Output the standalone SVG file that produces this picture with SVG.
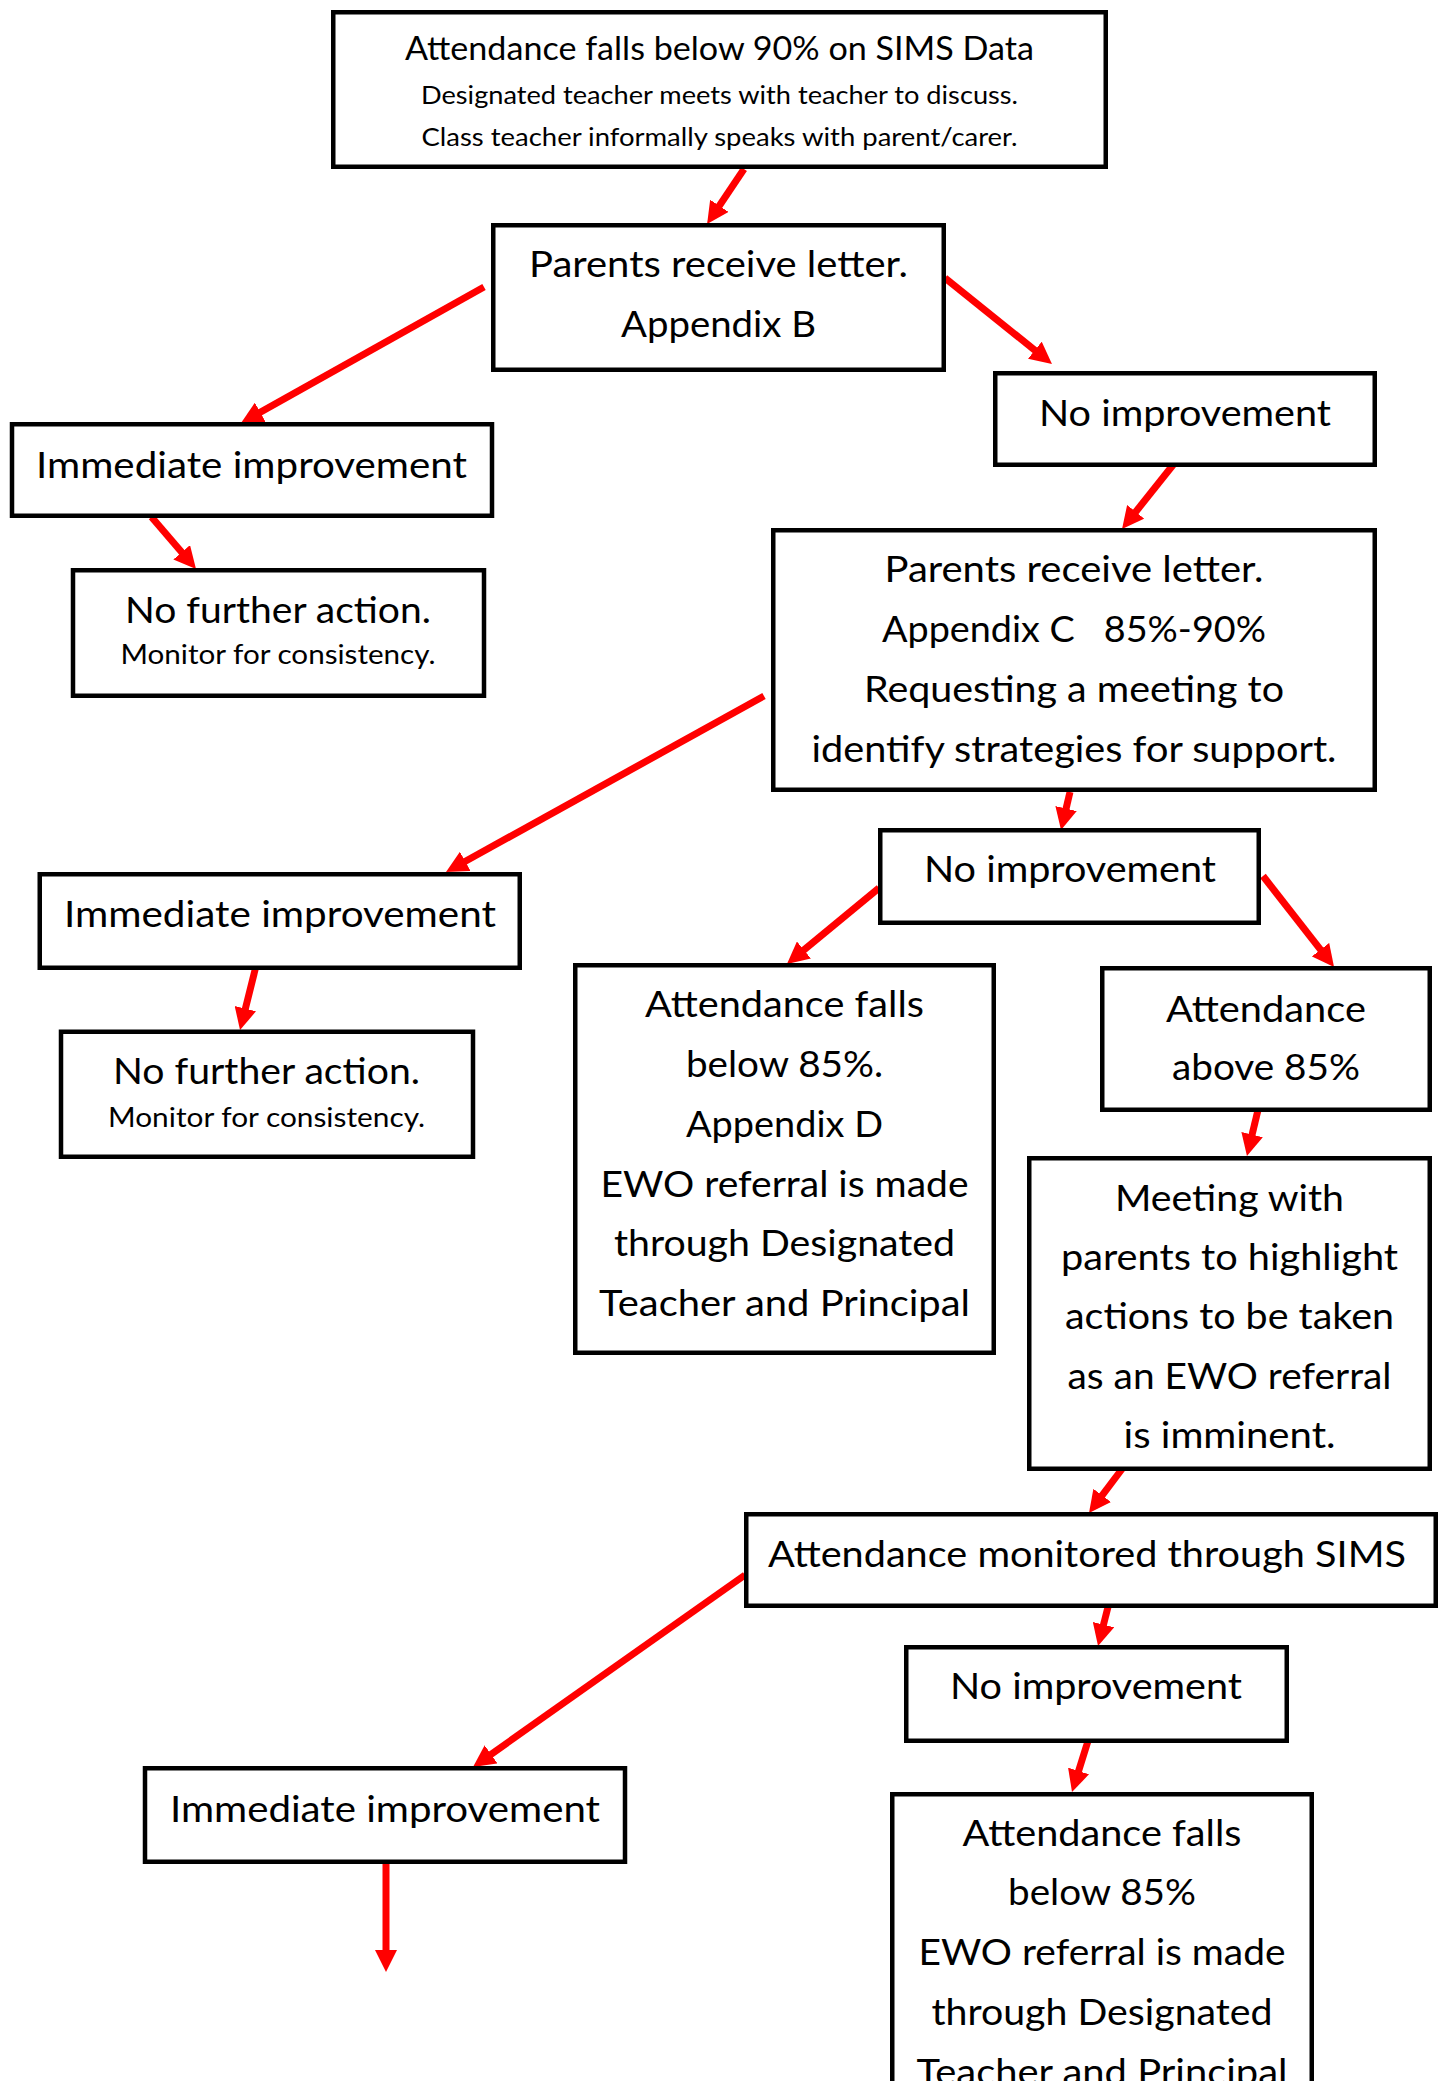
<svg xmlns="http://www.w3.org/2000/svg" width="1445" height="2081" viewBox="0 0 1445 2081">
<defs>
<style>
.node rect { fill:#ffffff; stroke:#000000; stroke-width:4.5; }
text { font-family: Lato, "Open Sans", "Liberation Sans", sans-serif; fill:#000000; text-anchor:middle; }
.t { font-size:37px; }
.h { font-size:33.5px; }
.s { font-size:25px; }
.m { font-size:27px; }
#connectors path { stroke:#ff0000; stroke-width:7; fill:none; marker-end:url(#ah); }
</style>
<marker id="ah" markerUnits="userSpaceOnUse" viewBox="0 0 22 22" markerWidth="22" markerHeight="22" refX="6" refY="11" orient="auto">
<path d="M0,0 L22,11 L0,22 z" fill="#ff0000"/>
</marker>
</defs>
<rect x="0" y="0" width="1445" height="2081" fill="#ffffff"/>

<g id="connectors">
<path d="M744,169 L716,210.8"/>
<path d="M484,287 L255,415.2"/>
<path d="M945,278 L1039.5,354"/>
<path d="M151.5,517 L185.6,556.8"/>
<path d="M1177,460 L1132,516.5"/>
<path d="M764,696 L460,864.3"/>
<path d="M1070,792 L1064.7,814.4"/>
<path d="M256,966 L243.9,1014.5"/>
<path d="M879,888 L799.3,953.8"/>
<path d="M1263,876 L1324.2,954.4"/>
<path d="M1258,1110 L1250.7,1140.4"/>
<path d="M1122,1469 L1098.6,1500.2"/>
<path d="M745,1575 L486.1,1757.8"/>
<path d="M1108,1607 L1102,1630.5"/>
<path d="M1088,1741 L1076.8,1776.7"/>
<path d="M386,1864 L386,1956"/>
</g>

<g id="n1" class="node">
<rect x="333.25" y="12.25" width="772.5" height="154.5"/>
<text class="h" x="719.5" y="60" textLength="629" lengthAdjust="spacingAndGlyphs">Attendance falls below 90% on SIMS Data</text>
<text class="s" x="719.5" y="104" textLength="597" lengthAdjust="spacingAndGlyphs">Designated teacher meets with teacher to discuss.</text>
<text class="s" x="719.5" y="146" textLength="596" lengthAdjust="spacingAndGlyphs">Class teacher informally speaks with parent/carer.</text>
</g>

<g id="n2" class="node">
<rect x="493.25" y="225.25" width="450.5" height="144.5"/>
<text class="t" x="718.5" y="277" textLength="379" lengthAdjust="spacingAndGlyphs">Parents receive letter.</text>
<text class="t" x="718.5" y="337" textLength="195" lengthAdjust="spacingAndGlyphs">Appendix B</text>
</g>

<g id="n3" class="node">
<rect x="995.25" y="373.25" width="379.5" height="91.5"/>
<text class="t" x="1185" y="426" textLength="292" lengthAdjust="spacingAndGlyphs">No improvement</text>
</g>

<g id="n4" class="node">
<rect x="12" y="424.25" width="480" height="91.5"/>
<text class="t" x="251.5" y="478" textLength="431" lengthAdjust="spacingAndGlyphs">Immediate improvement</text>
</g>

<g id="n5" class="node">
<rect x="73" y="570.25" width="411" height="125.5"/>
<text class="t" x="278" y="623" textLength="306" lengthAdjust="spacingAndGlyphs">No further action.</text>
<text class="m" x="278" y="664" textLength="315" lengthAdjust="spacingAndGlyphs">Monitor for consistency.</text>
</g>

<g id="n6" class="node">
<rect x="773.25" y="530.25" width="601.5" height="259.5"/>
<text class="t" x="1074" y="582" textLength="379" lengthAdjust="spacingAndGlyphs">Parents receive letter.</text>
<text class="t" x="1074" y="642" textLength="384" lengthAdjust="spacingAndGlyphs" xml:space="preserve">Appendix C   85%-90%</text>
<text class="t" x="1074" y="702" textLength="420" lengthAdjust="spacingAndGlyphs">Requesting a meeting to</text>
<text class="t" x="1074" y="762" textLength="525" lengthAdjust="spacingAndGlyphs">identify strategies for support.</text>
</g>

<g id="n7" class="node">
<rect x="880.25" y="830.25" width="378.5" height="92.5"/>
<text class="t" x="1070" y="882" textLength="292" lengthAdjust="spacingAndGlyphs">No improvement</text>
</g>

<g id="n8" class="node">
<rect x="39.75" y="874.25" width="480" height="93.5"/>
<text class="t" x="280" y="927" textLength="432" lengthAdjust="spacingAndGlyphs">Immediate improvement</text>
</g>

<g id="n9" class="node">
<rect x="61" y="1031.75" width="412" height="125"/>
<text class="t" x="266.5" y="1084" textLength="307" lengthAdjust="spacingAndGlyphs">No further action.</text>
<text class="m" x="266.5" y="1127" textLength="317" lengthAdjust="spacingAndGlyphs">Monitor for consistency.</text>
</g>

<g id="n10" class="node">
<rect x="575.25" y="965.25" width="418.5" height="387.5"/>
<text class="t" x="784.5" y="1017" textLength="279" lengthAdjust="spacingAndGlyphs">Attendance falls</text>
<text class="t" x="784.5" y="1077" textLength="197" lengthAdjust="spacingAndGlyphs">below 85%.</text>
<text class="t" x="784.5" y="1137" textLength="197" lengthAdjust="spacingAndGlyphs">Appendix D</text>
<text class="t" x="784.5" y="1197" textLength="368" lengthAdjust="spacingAndGlyphs">EWO referral is made</text>
<text class="t" x="784.5" y="1256" textLength="341" lengthAdjust="spacingAndGlyphs">through Designated</text>
<text class="t" x="784.5" y="1316" textLength="371" lengthAdjust="spacingAndGlyphs">Teacher and Principal</text>
</g>

<g id="n11" class="node">
<rect x="1102.25" y="968.25" width="327.5" height="141.5"/>
<text class="t" x="1266" y="1022" textLength="200" lengthAdjust="spacingAndGlyphs">Attendance</text>
<text class="t" x="1266" y="1080" textLength="188" lengthAdjust="spacingAndGlyphs">above 85%</text>
</g>

<g id="n12" class="node">
<rect x="1029.25" y="1158.25" width="400.5" height="310.5"/>
<text class="t" x="1229.5" y="1211" textLength="229" lengthAdjust="spacingAndGlyphs">Meeting with</text>
<text class="t" x="1229.5" y="1270" textLength="337" lengthAdjust="spacingAndGlyphs">parents to highlight</text>
<text class="t" x="1229.5" y="1329" textLength="329" lengthAdjust="spacingAndGlyphs">actions to be taken</text>
<text class="t" x="1229.5" y="1389" textLength="324" lengthAdjust="spacingAndGlyphs">as an EWO referral</text>
<text class="t" x="1229.5" y="1448" textLength="212" lengthAdjust="spacingAndGlyphs">is imminent.</text>
</g>

<g id="n13" class="node">
<rect x="746.25" y="1514.25" width="689.5" height="91.5"/>
<text class="t" x="1087" y="1567" textLength="638" lengthAdjust="spacingAndGlyphs">Attendance monitored through SIMS</text>
</g>

<g id="n14" class="node">
<rect x="906.25" y="1647.25" width="380.5" height="93.5"/>
<text class="t" x="1096" y="1699" textLength="292" lengthAdjust="spacingAndGlyphs">No improvement</text>
</g>

<g id="n15" class="node">
<rect x="145" y="1768.25" width="480" height="93.5"/>
<text class="t" x="385" y="1822" textLength="430" lengthAdjust="spacingAndGlyphs">Immediate improvement</text>
</g>

<g id="n16" class="node">
<rect x="892.25" y="1794.25" width="419.5" height="400"/>
<text class="t" x="1102" y="1846" textLength="279" lengthAdjust="spacingAndGlyphs">Attendance falls</text>
<text class="t" x="1102" y="1905" textLength="188" lengthAdjust="spacingAndGlyphs">below 85%</text>
<text class="t" x="1102" y="1965" textLength="367" lengthAdjust="spacingAndGlyphs">EWO referral is made</text>
<text class="t" x="1102" y="2025" textLength="341" lengthAdjust="spacingAndGlyphs">through Designated</text>
<text class="t" x="1102" y="2085" textLength="371" lengthAdjust="spacingAndGlyphs">Teacher and Principal</text>
</g>
</svg>
